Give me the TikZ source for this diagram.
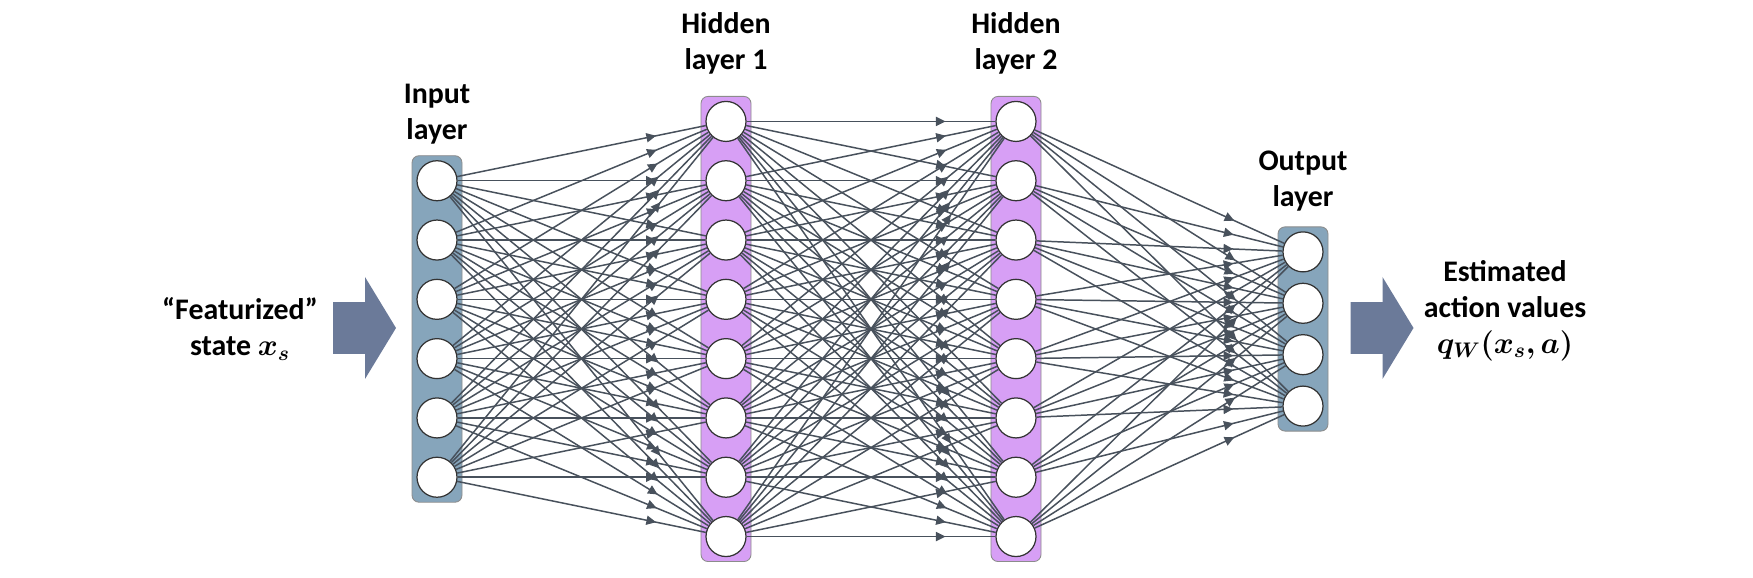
\documentclass[tikz,border=0pt]{standalone}
\usepackage{fontspec}
\setmainfont{Carlito}
\usepackage{bm}
\usetikzlibrary{positioning,arrows.meta,decorations.markings}

\definecolor{boxblue}{HTML}{86A5BB}
\definecolor{boxpurple}{HTML}{D79FF5}
\definecolor{linkgray}{HTML}{48515C}
\definecolor{fatblue}{HTML}{6B7A99}

\tikzset{
  neuron/.style={circle,draw=black!80,fill=white,line width=0.7pt,
    minimum size=0.8cm,inner sep=0pt},
  layerbox/.style={rectangle,rounded corners=4pt,draw=black!45,line width=0.5pt,
    minimum width=1cm,inner sep=0pt},
  link/.style={linkgray,line width=0.85pt,postaction={decorate},
    decoration={markings,mark=at position 0.8 with {\arrow{Triangle[length=5.5pt,width=5.2pt]}}}},
  lbl/.style={font=\fontsize{17}{20.5}\selectfont\bfseries,align=center,inner sep=0pt},
}

\begin{document}
\begin{tikzpicture}
\useasboundingbox (0,0) rectangle (35.06,11.56);

% layers: box first, then the neurons on top
\foreach \l/\x/\n/\d/\c in {inp/8.74/6/1.186/boxblue, hida/14.52/8/1.186/boxpurple,
    hidb/20.32/8/1.186/boxpurple, outp/26.06/4/1.028/boxblue} {
  \node[layerbox,fill=\c,minimum height={(\n-1)*\d cm+1cm}] (\l) at (\x,4.98) {};
  \foreach \k in {1,...,\n}
    \node[neuron] (\l\k) at (\x,{4.98+((\n+1)/2-\k)*\d}) {};
}

\node[lbl,above=0.22cm of inp] (inplbl) {Input\\layer};
\node[lbl,above=0.42cm of hida] (hidalbl) {Hidden\\layer 1};
\node[lbl,above=0.42cm of hidb] (hidblbl) {Hidden\\layer 2};
\node[lbl,above=0.30cm of outp] (outplbl) {Output\\layer};

% fully connected
\foreach \a/\na/\b/\nb in {inp/6/hida/8, hida/8/hidb/8, hidb/8/outp/4}
  \foreach \i in {1,...,\na}
    \foreach \j in {1,...,\nb}
      \draw[link] (\a\i) -- (\b\j);

% big arrows in and out
\foreach \ax in {6.66,27.01}
  \fill[fatblue,shift={(\ax,5.0)}] (0,-0.516) -- (0.64,-0.516) -- (0.64,-1.02)
    -- (1.26,0) -- (0.64,1.02) -- (0.64,0.516) -- (0,0.516) -- cycle;

\node[lbl] (state) at (4.8,4.98) {“Featurized”\\state $\bm{x_s}$};
\node[lbl] (qval) at (30.1,5.35) {Estimated\\action values\\$\bm{q_W(x_s,a)}$};
\end{tikzpicture}
\end{document}
